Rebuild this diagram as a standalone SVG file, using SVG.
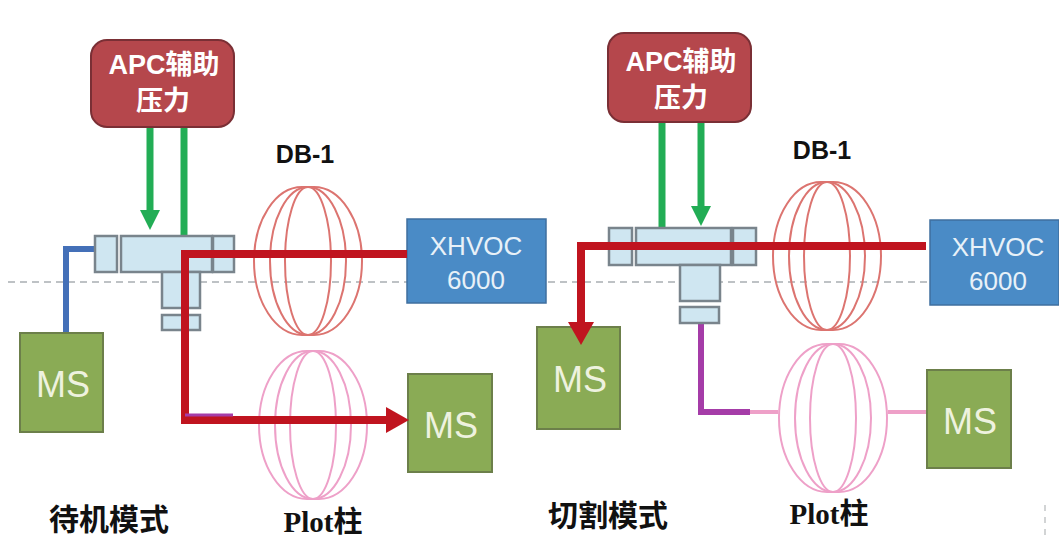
<svg xmlns="http://www.w3.org/2000/svg" width="1059" height="536" viewBox="0 0 1059 536">
<defs>
<marker id="ag" markerUnits="userSpaceOnUse" markerWidth="20" markerHeight="20" refX="3" refY="10" orient="auto"><path d="M0 0L20 10L0 20Z" fill="#22ad55"/></marker>
<marker id="ar" markerUnits="userSpaceOnUse" markerWidth="24" markerHeight="26" refX="3" refY="13" orient="auto"><path d="M0 0L23 13L0 26Z" fill="#c0141f"/></marker>
<g id="coil"><rect x="-54" y="-74" width="108" height="148" rx="48" ry="74"/><ellipse rx="38" ry="74"/><ellipse rx="23" ry="74"/></g>
</defs>
<style>
.apc{fill:#b5474c;stroke:#7a2f35;stroke-width:2}
.blue{fill:#4a8bc6;stroke:#3f6f9f;stroke-width:1.5}
.ms{fill:#8aab55;stroke:#6c7f4a;stroke-width:2}
.p{fill:#cfe6f1;stroke:#79848c;stroke-width:2.5}
.c1{fill:none;stroke:#dc7470;stroke-width:2}
.c2{fill:none;stroke:#eea0c8;stroke-width:2}
.t{font-family:"Liberation Sans","Noto Sans CJK SC",sans-serif;text-anchor:middle}
.w{fill:#fff;font-weight:700;font-size:27px}
.bl{fill:#e8f1f8;font-size:26px}
.ml{fill:#eef2df;font-size:36px}
.k{fill:#111;font-weight:700;font-size:25px}
.s{font-family:"Liberation Serif","Noto Sans CJK SC",serif;text-anchor:middle;fill:#111;font-weight:700;font-size:29px}
.z{font-size:30px}
.red{fill:none;stroke:#c0141f;stroke-width:8}
.g{fill:none;stroke:#22ad55;stroke-width:7}
</style>
<g id="connectors">
<path d="M8 282H1040" fill="none" stroke="#a9aeb2" stroke-width="1.5" stroke-dasharray="7 5"/>
<path d="M1045 505V536" fill="none" stroke="#c4c6c8" stroke-width="1.5" stroke-dasharray="6 6"/>
<path d="M96 249H66V332" fill="none" stroke="#4470b8" stroke-width="6"/>
<path d="M150 127V213" class="g" marker-end="url(#ag)"/>
<path d="M184 127V235" class="g"/>
<path d="M662 122V227" class="g"/>
<path d="M701 122V209" class="g" marker-end="url(#ag)"/>
<path d="M701 323V412H750" fill="none" stroke="#a53ca8" stroke-width="6"/>
<path d="M750 412H778M888 412H926" fill="none" stroke="#eea0c8" stroke-width="4"/>
</g>
<g id="db1-left"><use href="#coil" class="c1" x="308" y="261"/></g>
<g id="plot-left"><use href="#coil" class="c2" x="313" y="425"/></g>
<g id="db1-right"><use href="#coil" class="c1" x="827" y="256"/></g>
<g id="plot-right"><use href="#coil" class="c2" x="833" y="418"/></g>
<g id="tee-left">
<rect class="p" x="95" y="236" width="22" height="36"/><rect class="p" x="121" y="236" width="91" height="36"/><rect class="p" x="213" y="236" width="21" height="36"/><rect class="p" x="162" y="272" width="38" height="36"/><rect class="p" x="162" y="315" width="38" height="15"/>
</g>
<g id="tee-right">
<rect class="p" x="609" y="228" width="23" height="37"/><rect class="p" x="636" y="228" width="95" height="37"/><rect class="p" x="733" y="228" width="23" height="37"/><rect class="p" x="680" y="265" width="40" height="36"/><rect class="p" x="680" y="307" width="39" height="16"/>
</g>
<g id="apc-left"><rect class="apc" x="91" y="40" width="143" height="87" rx="16"/><text class="t w" x="164" y="74">APC辅助</text><text class="t w" x="163" y="110">压力</text></g>
<g id="apc-right"><rect class="apc" x="608" y="33" width="143" height="89" rx="16"/><text class="t w" x="681" y="71">APC辅助</text><text class="t w" x="681" y="107">压力</text></g>
<g id="xhvoc-left"><rect class="blue" x="407" y="219" width="139" height="84"/><text class="t bl" x="476" y="255">XHVOC</text><text class="t bl" x="476" y="289">6000</text></g>
<g id="xhvoc-right"><rect class="blue" x="930" y="220" width="129" height="85"/><text class="t bl" x="998" y="256">XHVOC</text><text class="t bl" x="998" y="290">6000</text></g>
<g id="ms-1"><rect class="ms" x="20" y="333" width="83" height="99"/><text class="t ml" x="63" y="397">MS</text></g>
<g id="ms-2"><rect class="ms" x="408" y="374" width="84" height="98"/><text class="t ml" x="451" y="438">MS</text></g>
<g id="ms-3"><rect class="ms" x="537" y="327" width="83" height="102"/><text class="t ml" x="580" y="392">MS</text></g>
<g id="ms-4"><rect class="ms" x="927" y="370" width="84" height="98"/><text class="t ml" x="970" y="434">MS</text></g>
<g id="red-lines">
<path d="M407 254H185V420H389" class="red" marker-end="url(#ar)"/>
<path d="M185 415H233" fill="none" stroke="#a53ca8" stroke-width="3"/>
<path d="M926 246H581V325" class="red" marker-end="url(#ar)"/>
</g>
<g id="labels">
<text class="t k" x="305" y="163">DB-1</text>
<text class="t k" x="822" y="159">DB-1</text>
<text class="s" x="323" y="532">Plot柱</text>
<text class="s" x="829" y="524">Plot柱</text>
<text class="s z" x="109" y="530">待机模式</text>
<text class="s z" x="608" y="526">切割模式</text>
</g>
</svg>
